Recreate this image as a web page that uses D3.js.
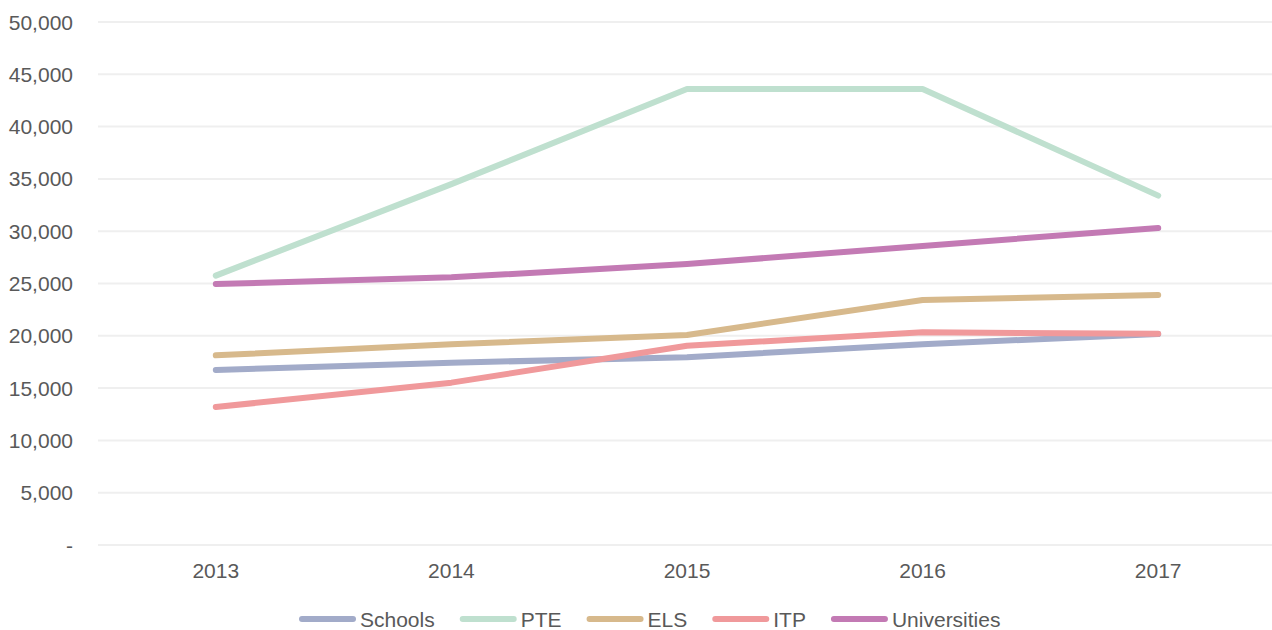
<!DOCTYPE html>
<html>
<head>
<meta charset="utf-8">
<script src="https://cdn.jsdelivr.net/npm/d3@7"></script>
<style>
  body { margin: 0; background: #fff; }
  svg text { font-family: "Liberation Sans", Arial, sans-serif; fill: #595959; }
</style>
</head>
<body>
<div id="chart"></div>
<script>
var years = ["2013", "2014", "2015", "2016", "2017"];
var seriesNames = ["Schools", "PTE", "ELS", "ITP", "Universities"];
var schools = [16730, 17430, 17950, 19190, 20170];
var pte = [25750, 34500, 43600, 43600, 33400];
var els = [18140, 19190, 20080, 23420, 23900];
var itp = [13190, 15520, 19050, 20330, 20200];
var universities = [24950, 25590, 26860, 28590, 30310];
var colors = ["#a2abc9", "#bfe0cf", "#d7b98c", "#f0999b", "#c37ab4"];
var yTicks = [0, 5000, 10000, 15000, 20000, 25000, 30000, 35000, 40000, 45000, 50000];

var series = [schools, pte, els, itp, universities].map(function(vals, i) {
  return { name: seriesNames[i], color: colors[i], values: vals };
});

var W = 1272, H = 630;
var margin = {top: 22, right: 0, bottom: 85, left: 98};

var svg = d3.select("#chart").append("svg")
  .attr("width", W)
  .attr("height", H);

var x = d3.scalePoint()
  .domain(years)
  .range([margin.left, 1276])
  .padding(0.5);

var y = d3.scaleLinear()
  .domain([0, 50000])
  .range([H - margin.bottom, margin.top]);

// gridlines
svg.append("g")
  .selectAll("line")
  .data(yTicks)
  .enter()
  .append("line")
    .attr("x1", margin.left)
    .attr("x2", W)
    .attr("y1", function(d) { return y(d); })
    .attr("y2", function(d) { return y(d); })
    .attr("stroke", "#efefef")
    .attr("stroke-width", 2);

// y labels
var fmt = d3.format(",");
svg.append("g")
  .selectAll("text")
  .data(yTicks)
  .enter()
  .append("text")
    .attr("x", 73)
    .attr("y", function(d) { return y(d); })
    .attr("dy", "0.36em")
    .attr("text-anchor", "end")
    .style("font-size", "21px")
    .text(function(d) { return d === 0 ? "-" : fmt(d); });

// x labels
svg.append("g")
  .selectAll("text")
  .data(years)
  .enter()
  .append("text")
    .attr("x", function(d) { return x(d); })
    .attr("y", 570)
    .attr("dy", "0.36em")
    .attr("text-anchor", "middle")
    .style("font-size", "21px")
    .text(function(d) { return d; });

var line = d3.line()
  .x(function(d, i) { return x(years[i]); })
  .y(function(d) { return y(d); });

svg.append("g")
  .selectAll("path")
  .data(series)
  .enter()
  .append("path")
    .attr("d", function(d) { return line(d.values); })
    .attr("fill", "none")
    .attr("stroke", function(d) { return d.color; })
    .attr("stroke-width", 6)
    .attr("stroke-linecap", "round")
    .attr("stroke-linejoin", "round");

// legend
var legend = svg.append("g");
var lx = 302, ly = 619;
series.forEach(function(s) {
  legend.append("line")
    .attr("x1", lx).attr("x2", lx + 51)
    .attr("y1", ly).attr("y2", ly)
    .attr("stroke", s.color)
    .attr("stroke-width", 6)
    .attr("stroke-linecap", "round");
  var t = legend.append("text")
    .attr("x", lx + 58)
    .attr("y", ly)
    .attr("dy", "0.36em")
    .style("font-size", "21px")
    .text(s.name);
  lx += 58 + t.node().getComputedTextLength() + 28;
});
</script>
</body>
</html>
